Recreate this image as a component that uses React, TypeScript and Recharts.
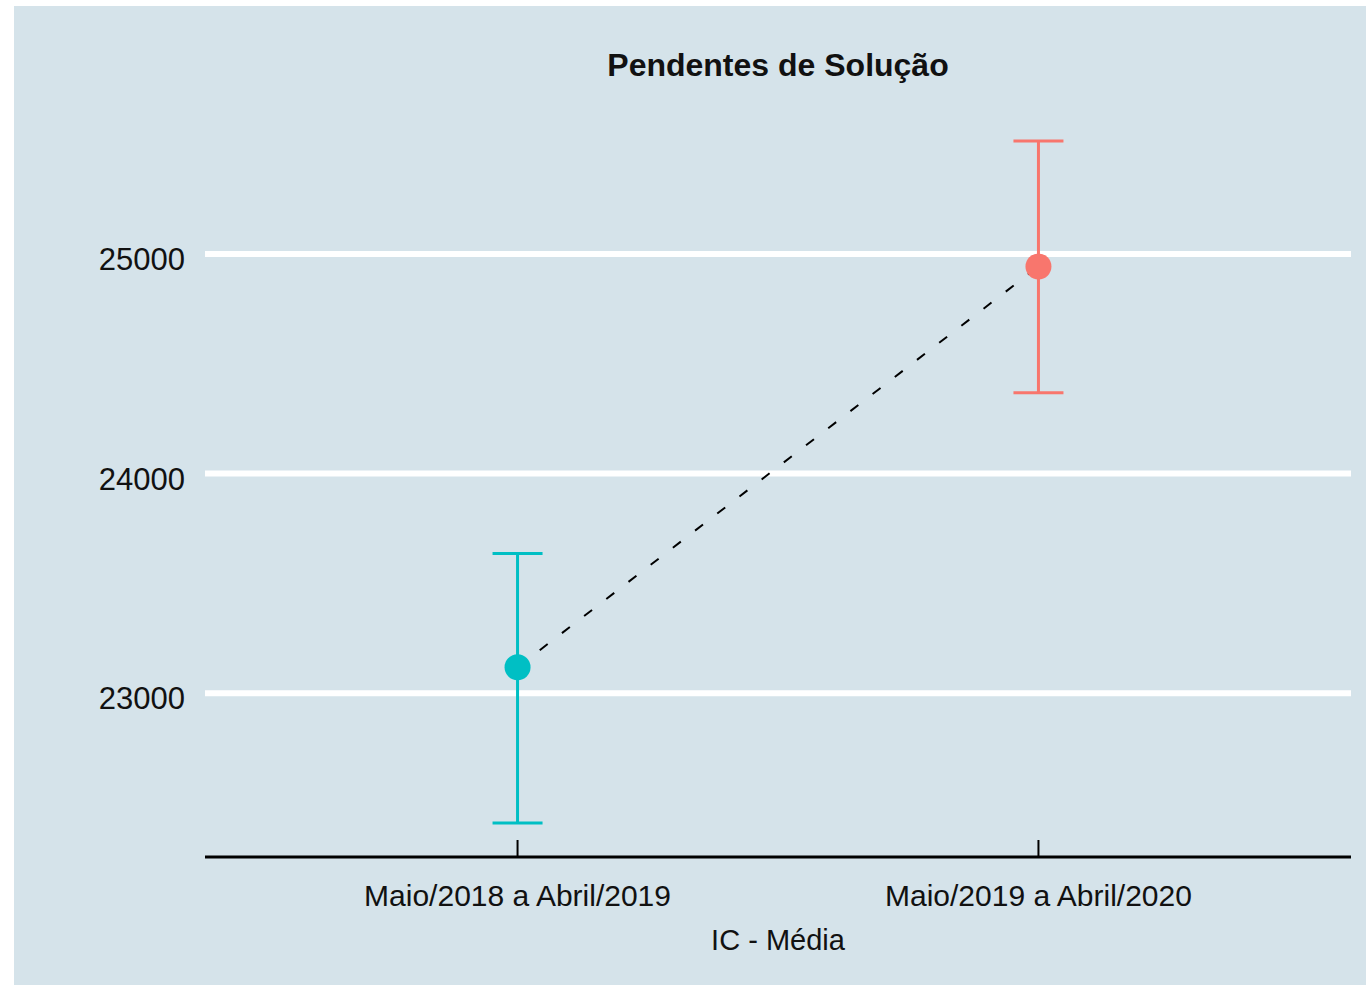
import React from 'react';
import { ComposedChart, ErrorBar, Label, Line, ReferenceLine, Scatter, XAxis, YAxis } from 'recharts';

const periods = ['Maio/2018 a Abril/2019', 'Maio/2019 a Abril/2020'];
const means = [23118, 24943];
const lowerLimits = [22409, 24368];
const upperLimits = [23636, 25514];
const pointColors = ['#00BFC4', '#F8766D'];
const yTicks = [23000, 24000, 25000];

const rows = periods.map((period, i) => ({
  pos: i + 1,
  period,
  mean: means[i],
  err: [means[i] - lowerLimits[i], upperLimits[i] - means[i]],
}));

const FONT = '"Liberation Sans", Arial, sans-serif';

const XTick = (props: any) => {
  const { x, y, payload } = props;
  return (
    <g>
      <line x1={x} x2={x} y1={y} y2={y - 17} stroke="#000" strokeWidth={2} />
      <text x={x} y={y + 49} textAnchor="middle" fontSize={30} fontFamily={FONT} fill="#111">
        {periods[payload.value - 1]}
      </text>
    </g>
  );
};

const Dot = (color: string) => (props: any) => <circle cx={props.cx} cy={props.cy} r={13} fill={color} />;

export default function App() {
  return (
    <div style={{ position: 'absolute', left: 14, top: 6, width: 1352, height: 979, background: '#d5e3ea' }}>
      <div
        style={{
          position: 'absolute',
          left: 191,
          width: 1146,
          top: 43,
          textAlign: 'center',
          fontFamily: FONT,
          fontWeight: 'bold',
          fontSize: 32,
          lineHeight: '32px',
          color: '#111',
        }}
      >
        Pendentes de Solução
      </div>
      <ComposedChart width={1352} height={979} data={rows} margin={{ top: 101, right: 15, bottom: 0, left: 0 }}>
        <XAxis
          type="number"
          dataKey="pos"
          domain={[0.4, 2.6]}
          ticks={[1, 2]}
          allowDataOverflow
          height={128}
          tickSize={0}
          tickMargin={0}
          tickLine={false}
          axisLine={{ stroke: '#000', strokeWidth: 3 }}
          tick={<XTick />}
        >
          <Label value="IC - Média" position="insideBottom" offset={35} fontSize={29} fontFamily={FONT} fill="#111" />
        </XAxis>
        <YAxis
          type="number"
          domain={[22254, 25669]}
          ticks={yTicks}
          allowDataOverflow
          width={191}
          axisLine={false}
          tickLine={false}
          tickSize={0}
          tickMargin={20}
          tick={{ fontSize: 31, fontFamily: FONT, fill: '#111', dy: 5 }}
        />
        {yTicks.map((t) => (
          <ReferenceLine key={t} y={t} stroke="#ffffff" strokeWidth={6} />
        ))}
        {rows.map((row, i) => (
          <Scatter key={row.period} data={[row]} dataKey="mean" shape={Dot(pointColors[i])} isAnimationActive={false}>
            <ErrorBar dataKey="err" direction="y" width={25} stroke={pointColors[i]} strokeWidth={3} />
          </Scatter>
        ))}
        <Line
          dataKey="mean"
          stroke="#000"
          strokeWidth={2}
          strokeDasharray="10 18"
          dot={false}
          activeDot={false}
          isAnimationActive={false}
        />
      </ComposedChart>
    </div>
  );
}
